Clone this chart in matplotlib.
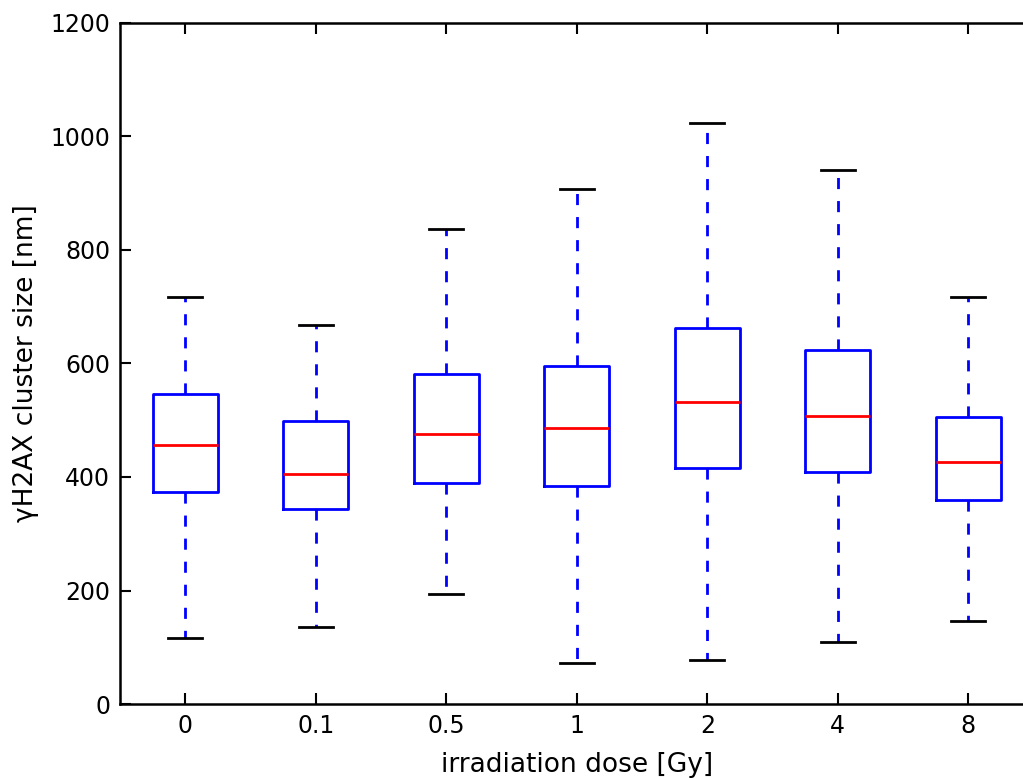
import matplotlib
matplotlib.use("Agg")
import matplotlib.pyplot as plt

doses = ["0", "0.1", "0.5", "1", "2", "4", "8"]
whisker_low = [116, 135, 194, 73, 77, 110, 147]
q1 = [373, 344, 390, 384, 416, 409, 360]
medians = [456, 406, 475, 486, 533, 508, 426]
q3 = [546, 499, 581, 596, 662, 624, 505]
whisker_high = [717, 668, 837, 907, 1024, 941, 718]

stats = [
    {"label": d, "whislo": lo, "q1": a, "med": m, "q3": b, "whishi": hi, "fliers": []}
    for d, lo, a, m, b, hi in zip(doses, whisker_low, q1, medians, q3, whisker_high)
]

fig = plt.figure(figsize=(10.23, 7.78), dpi=100)
ax = fig.add_axes([120 / 1023, 74 / 778, 913.5 / 1023, 681 / 778])

ax.bxp(
    stats,
    widths=0.5,
    boxprops=dict(color="#0000ff", linewidth=2),
    medianprops=dict(color="#ff0000", linewidth=2),
    whiskerprops=dict(color="#0000ff", linewidth=2, linestyle=(0, (4, 4.3))),
    capprops=dict(color="black", linewidth=2),
    capwidths=0.26,
    showfliers=False,
)

ax.set_xlim(0.5, 7.5)
ax.set_ylim(0, 1200)
ax.set_yticks(range(0, 1201, 200))
ax.tick_params(direction="in", top=True, right=True, length=8, width=1.5, labelsize=17, pad=7)
for s in ax.spines.values():
    s.set_linewidth(1.8)

ax.set_xlabel("irradiation dose [Gy]", fontsize=19, labelpad=10)
ax.set_ylabel("γH2AX cluster size [nm]", fontsize=19, labelpad=8)

fig.savefig("out.png", dpi=100)
